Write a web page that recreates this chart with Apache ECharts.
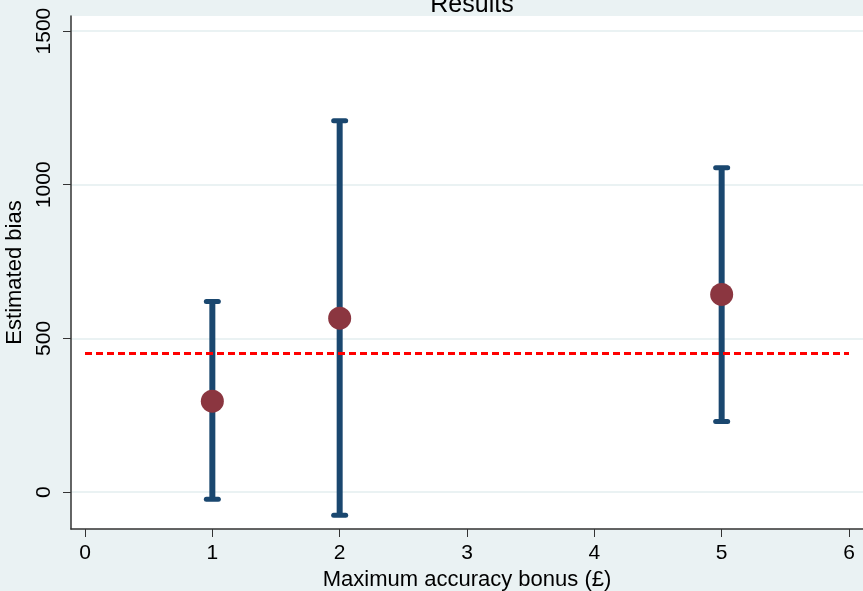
<!DOCTYPE html>
<html>
<head>
<meta charset="utf-8">
<script src="https://cdn.jsdelivr.net/npm/echarts@6/dist/echarts.min.js"></script>
<style>
  html, body { margin: 0; padding: 0; background: #eaf2f3; }
  #chart { width: 863px; height: 591px; }
</style>
</head>
<body>
<div id="chart"></div>
<script>
// bonus levels and estimates
const bonus = [1, 2, 5];
const estimate = [296, 566, 643];
const ciLow = [-23, -75, 230];
const ciHigh = [620, 1208, 1055];
const refLevel = 451;
const yTicks = [0, 500, 1000, 1500];
const xTicks = [0, 1, 2, 3, 4, 5, 6];

const font = 'Liberation Sans, Arial, sans-serif';
const barData = bonus.map((b, i) => [b, ciLow[i], ciHigh[i]]);
const pointData = bonus.map((b, i) => [b, estimate[i]]);

const chart = echarts.init(document.getElementById('chart'));

const option = {
  backgroundColor: '#eaf2f3',
  animation: false,
  title: {
    text: 'Results',
    left: 467,
    top: -12,
    textAlign: 'center',
    textStyle: { fontFamily: font, fontSize: 25, fontWeight: 'normal', color: '#000' }
  },
  grid: {
    left: 71, right: 0, top: 16, bottom: 62,
    outerBoundsMode: 'none',
    containLabel: false,
    show: true, backgroundColor: '#fff', borderWidth: 0
  },
  xAxis: {
    type: 'value',
    min: -0.11, max: 6.11,
    name: 'Maximum accuracy bonus (£)',
    nameLocation: 'middle',
    nameGap: 38,
    nameTextStyle: { fontFamily: font, fontSize: 22, color: '#000' },
    axisLine: { show: true, onZero: false, lineStyle: { color: '#333', width: 1.5 } },
    axisTick: { show: true, length: 8, customValues: xTicks, lineStyle: { color: '#333' } },
    axisLabel: { customValues: xTicks, margin: 14, fontFamily: font, fontSize: 21, color: '#000' },
    splitLine: { show: false }
  },
  yAxis: {
    type: 'value',
    min: -120, max: 1549,
    name: 'Estimated bias',
    nameLocation: 'middle',
    nameRotate: 90,
    nameGap: 43,
    nameTextStyle: { fontFamily: font, fontSize: 22, color: '#000' },
    axisLine: { show: true, onZero: false, lineStyle: { color: '#333', width: 1.5 } },
    axisTick: { show: true, length: 8, customValues: yTicks, lineStyle: { color: '#333' } },
    axisLabel: {
      customValues: yTicks, rotate: 90, margin: 16,
      formatter: v => String(v),
      fontFamily: font, fontSize: 21, color: '#000'
    },
    splitLine: { show: true, lineStyle: { color: '#eaf2f3', width: 2 } }
  },
  series: [
    {
      type: 'custom',
      z: 2,
      data: barData,
      renderItem: function (params, api) {
        const x = api.value(0);
        const lo = api.coord([x, api.value(1)]);
        const hi = api.coord([x, api.value(2)]);
        const capW = 8;
        const style = { stroke: '#1a476f', lineWidth: 6 };
        const capStyle = { stroke: '#1a476f', lineWidth: 5, lineCap: 'round' };
        return {
          type: 'group',
          children: [
            { type: 'line', shape: { x1: lo[0], y1: lo[1], x2: hi[0], y2: hi[1] }, style: style },
            { type: 'line', shape: { x1: lo[0] - capW + 2, y1: lo[1], x2: lo[0] + capW - 2, y2: lo[1] }, style: capStyle },
            { type: 'line', shape: { x1: hi[0] - capW + 2, y1: hi[1], x2: hi[0] + capW - 2, y2: hi[1] }, style: capStyle }
          ]
        };
      }
    },
    {
      type: 'line',
      z: 3,
      data: [[0, refLevel], [6, refLevel]],
      symbol: 'none',
      lineStyle: { color: '#ff0000', width: 3, type: [7, 4] }
    },
    {
      type: 'scatter',
      z: 4,
      data: pointData,
      symbol: 'circle',
      symbolSize: 23,
      itemStyle: { color: '#8b3640', opacity: 1 }
    }
  ]
};

chart.setOption(option);
</script>
</body>
</html>
